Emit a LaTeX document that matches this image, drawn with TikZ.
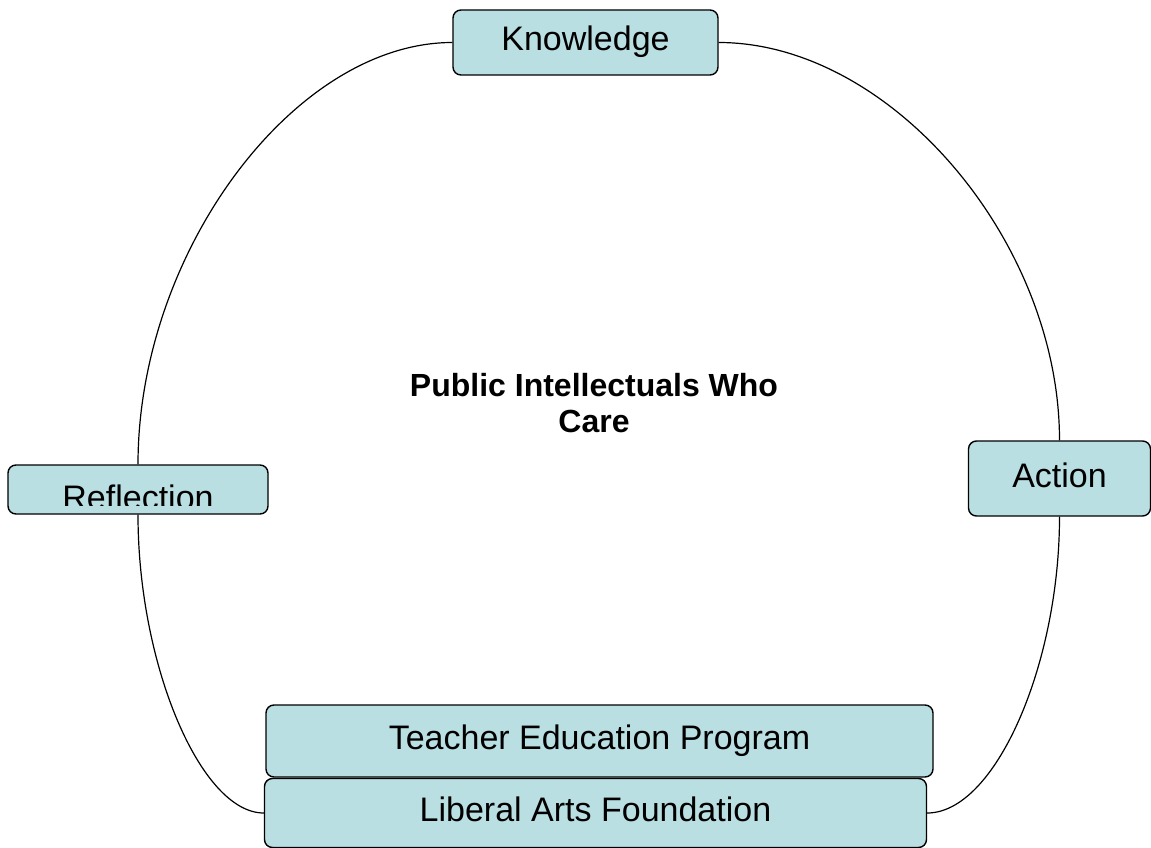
\documentclass[tikz,border=0pt]{standalone}
\usepackage{fontspec}
\setmainfont{Liberation Sans}
\usepackage{xcolor}
\usepackage{tikz}
\definecolor{boxfill}{HTML}{B9DFE2}

\begin{document}
\begin{tikzpicture}[x=1pt, y=-1pt,
    every text node part/.style={align=center},
    block/.style={draw=black, fill=boxfill, line width=1.4pt, rounded corners=8pt,
                  inner sep=0pt, text height=25pt, text depth=8pt,
                  font=\fontsize{34}{40}\selectfont},
    link/.style={line width=1.2pt}]
  \useasboundingbox (0,0) rectangle (1151,848);

  \node[block, minimum width=265pt, minimum height=65pt] (know)  at (585.5,42.5) {Knowledge};
  \node[block, minimum width=260pt, minimum height=49pt] (refl)  at (138,489.5)  {};
  \node[block, minimum width=182pt, minimum height=75pt] (act)   at (1059.5,478.5) {Action};
  \node[block, minimum width=667pt, minimum height=72pt] (teach) at (599.5,741)  {Teacher Education Program};
  \node[block, minimum width=662pt, minimum height=69pt] (lib)   at (595.5,813)  {Liberal Arts Foundation};

  \begin{scope}
    \clip (9,466) rectangle (267,505);
    \node[anchor=base, inner sep=0pt, font=\fontsize{34}{40}\selectfont] (refltext) at (138,509) {Reflection};
  \end{scope}

  \node[font=\fontsize{32}{36}\selectfont\bfseries] (centre) at (594,403) {Public Intellectuals Who \\ Care};

  \path[link]
  (know) edge[out=180, in=90,  out distance=158pt, in distance=212pt] (refl)
  (know) edge[out=0,   in=90,  out distance=172pt, in distance=199pt] (act)
  (refl) edge[out=-90, in=180, out distance=150pt, in distance=63pt]  (lib)
  (act)  edge[out=-90, in=0,   out distance=148pt, in distance=68pt]  (lib);
\end{tikzpicture}
\end{document}
